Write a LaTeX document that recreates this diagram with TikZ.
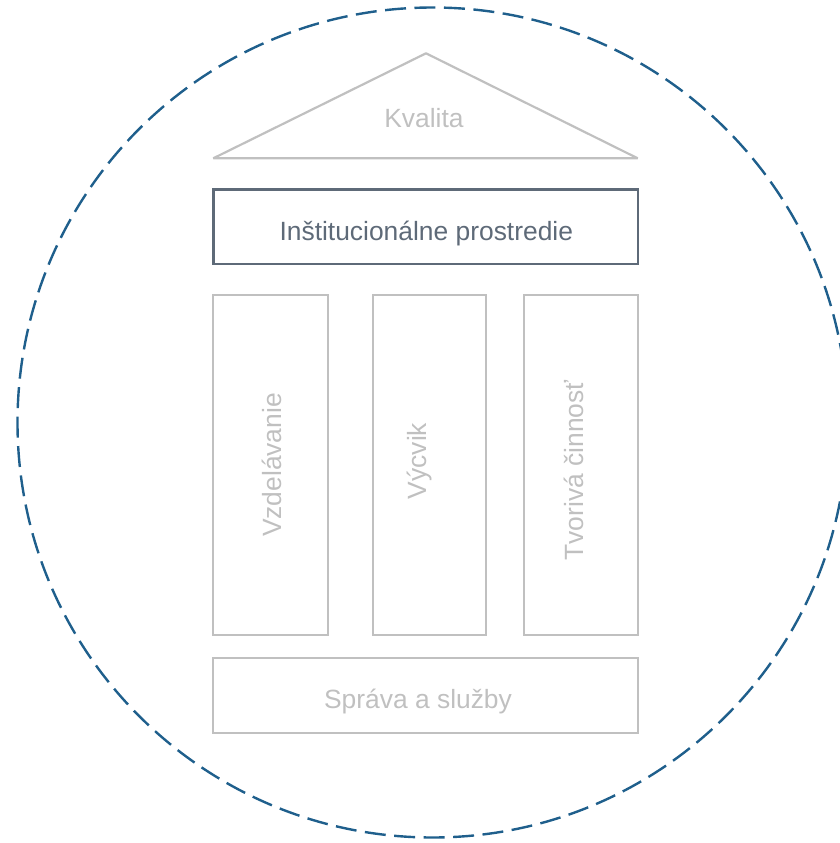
\documentclass[tikz,border=0pt]{standalone}
\usepackage{fontspec}
\setmainfont{Liberation Sans}
\definecolor{ringblue}{HTML}{1F5F8C}
\definecolor{paleg}{HTML}{C0C0C0}
\definecolor{slate}{HTML}{5E6A78}
\begin{document}
\begin{tikzpicture}[x=1pt,y=-1pt,
  ring/.style={draw=ringblue, line width=2.4pt, dash pattern=on 21pt off 8.5pt},
  pale/.style={draw=paleg, line width=2.2pt},
  boxy/.style={rectangle, inner sep=0pt, outer sep=0pt},
  lbl/.style={font=\fontsize{26.4}{31}\selectfont, inner sep=0pt, anchor=base, text=paleg}
]
\useasboundingbox (0,0) rectangle (840,843);
\clip (0,0) rectangle (840,843);
\node[circle, ring, minimum size=830pt, inner sep=0pt] (ring) at (432.5,422.5) {};
% roof
\coordinate (apex) at (426,53.3);
\coordinate (bl) at (213.3,158.3);
\coordinate (br) at (637.7,158.3);
\draw[pale, line join=bevel] (bl) -- (apex) -- (br) -- cycle;
\node[lbl] (kval) at (424,127.3) {Kvalita};
% institutional box
\node[boxy, draw=slate, line width=2.4pt, minimum width=424.4pt, minimum height=74.7pt] (inst) at (425.5,226.7) {};
\node[lbl, text=slate] (insttxt) at (426.3,240) {Inštitucionálne prostredie};
% columns
\node[boxy, pale, minimum width=114.4pt, minimum height=340pt] (col1) at (270.5,465) {};
\node[boxy, pale, minimum width=113.3pt, minimum height=340pt] (col2) at (429.3,465) {};
\node[boxy, pale, minimum width=113.7pt, minimum height=340pt] (col3) at (580.8,465) {};
\node[lbl, rotate=90] (t1) at (281.7,465) {Vzdelávanie};
\node[lbl, rotate=90] (t2) at (426.3,461) {Výcvik};
\node[lbl, rotate=90] (t3) at (583.3,470.5) {Tvorivá činnosť};
% base
\node[boxy, pale, minimum width=424.4pt, minimum height=75.6pt] (base) at (425.5,695.5) {};
\node[lbl] (basetxt) at (418,708.3) {Správa a služby};
\end{tikzpicture}
\end{document}
